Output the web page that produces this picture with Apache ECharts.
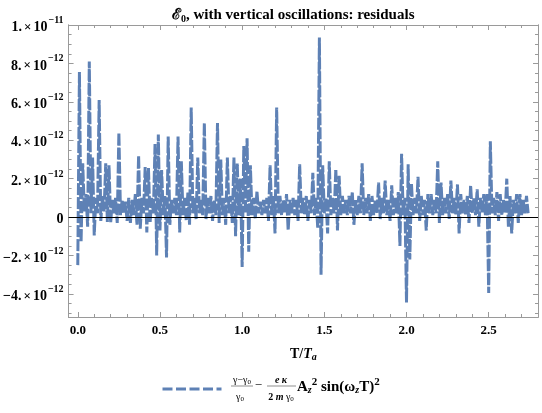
<!DOCTYPE html>
<html><head><meta charset="utf-8">
<script src="https://cdn.jsdelivr.net/npm/echarts@6/dist/echarts.min.js"></script>
<style>html,body{margin:0;padding:0;background:#fff}#c{width:542px;height:413px}</style>
</head><body><div id="c"></div>
<script>
// ---- data (residual values in units of 1e-12, sampled every tStep in T/Ta) ----
const tStep = 0.01;
const residuals = [
 -2.5, 7.55, -1.3, 2.8, 0.3, 1.2, -0.5, 8.1, 0.2, 3.1,
 -0.95, 1.0, 0.2, 6.1, -0.2, 1.1, 0.3, 2.8, -0.25, 2.7,
 -0.3, 0.9, 0.2, 1.0, -0.3, 4.4, 0.1, 0.9, 0.2, 0.8,
 -0.2, 1.0, -0.3, 0.9, 0.1, 1.2, -0.4, 3.2, -0.6, 1.0,
 0.2, 2.6, -0.8, 2.55, -0.3, 1.0, 0.2, 3.8, -2.0, 4.3,
 -0.7, 2.45, 0.1, 1.1, -2.1, 4.2, -0.4, 0.9, 0.2, 1.0,
 0.1, 4.2, -0.8, 2.9, 0.1, 1.0, -0.2, 1.3, -0.4, 5.7,
 0.2, 1.0, -0.1, 3.1, 0.2, 0.9, 0.1, 4.9, -0.1, 1.0,
 0.2, 1.1, -0.2, 0.9, 0.1, 4.9, -0.3, 3.0, 0.1, 1.0,
 -0.4, 3.1, 0.2, 1.1, -0.3, 3.1, -1.0, 2.8, 0.1, 2.0,
 -2.6, 3.7, 0.2, 4.1, -1.8, 2.7, 0.1, 1.0, -0.1, 1.35,
 0.2, 0.8, 0.1, 0.9, 0.2, 1.0, -0.2, 2.7, 0.1, 1.1,
 -0.85, 5.7, 0.2, 1.1, 0.1, 0.9, 0.2, 1.2, -0.7, 0.9,
 0.2, 1.0, 0.1, 0.9, -0.2, 2.75, 0.2, 1.0, 0.1, 1.1,
 -0.2, 0.9, 0.2, 2.3, 0.1, 1.0, -0.6, 9.35, -3.0, 2.7,
 0.2, 1.0, -0.85, 2.9, 0.1, 1.0, 0.2, 2.5, -0.7, 2.15,
 0.1, 1.1, 0.2, 0.9, 0.1, 1.1, 0.2, 1.3, -0.4, 0.9,
 0.1, 1.1, 0.2, 2.8, 0.1, 1.0, 0.2, 1.2, -0.2, 1.1,
 0.1, 0.9, 0.2, 1.8, -0.1, 1.0, 0.2, 1.9, 0.1, 0.9,
 -0.2, 1.65, 0.1, 1.0, 0.2, 1.3, -1.5, 3.3, 0.1, 1.0,
 -4.45, 2.75, -2.2, 1.75, 0.1, 1.0, 0.2, 2.1, -0.2, 1.1,
 0.1, 0.9, -0.7, 1.2, 0.2, 1.2, 0.1, 0.9, 0.2, 2.9,
 -0.3, 1.8, 0.1, 1.0, 0.2, 1.2, -0.1, 1.9, 0.2, 1.0,
 0.1, 1.7, -0.85, 1.2, 0.2, 0.9, 0.1, 1.1, -0.3, 1.65,
 0.2, 1.0, 0.1, 1.45, -0.5, 1.0, 0.2, 1.2, 0.1, 1.2,
 -3.95, 3.95, 0.2, 1.0, 0.1, 1.3, -0.2, 1.2, 0.1, 0.9,
 0.2, 2.0, -0.5, 1.1, -0.85, 0.9, 0.2, 1.2, -0.3, 1.2,
 0.1, 0.9, 0.2, 1.1, 0.2
];
const xTicks = [0, 0.5, 1, 1.5, 2, 2.5];
const xTickLabels = ['0.0', '0.5', '1.0', '1.5', '2.0', '2.5'];
const yTicks = [-4, -2, 0, 2, 4, 6, 8, 10];
const yTickLabels = ['−4.×10^−12', '−2.×10^−12', '0', '2.×10^−12', '4.×10^−12', '6.×10^−12', '8.×10^−12', '1.×10^−11'];
const seriesName = '(γ−γ0)/γ0 − eκ/(2mγ0) Az^2 sin(ωz T)^2';

// ---- build ----
const xMin = -0.056, xMax = 2.80, yMin = -5.2, yMax = 10;
const points = residuals.map((v, i) => [+(i * tStep).toFixed(4), v]);
const xMinor = [], yMinor = [];
for (let k = 0; k <= 27; k++) { if (k % 5) xMinor.push(+(k * 0.1).toFixed(2)); }
for (let k = -10; k <= 20; k++) { if (k % 4) yMinor.push(k * 0.5); }

const serif = '"Liberation Serif","DejaVu Serif","Times New Roman",serif';
const frameColor = '#9a9a9a';
const lineColor = '#5E81B5';
const baseFont = { fontFamily: serif, fontWeight: 'bold', color: '#000' };

function yFmt(v) {
  let idx = yTicks.findIndex(t => Math.abs(t - v) < 1e-9);
  if (idx < 0) return '';
  const lab = yTickLabels[idx];
  if (lab.indexOf('^') < 0) return '{n|' + lab + '}';
  const [base, exp] = lab.split('^');
  const [mant, ten] = base.split('×');
  return '{n|' + mant + '}{x|×}{n|' + ten + '}{s|' + exp + '}';
}
function xFmt(v) {
  let idx = xTicks.findIndex(t => Math.abs(t - v) < 1e-9);
  return idx < 0 ? '' : xTickLabels[idx];
}

function xAxisDef(pos, ticks, len, labels) {
  return {
    type: 'value', min: xMin, max: xMax, position: pos,
    axisLine: { show: true, onZero: false, lineStyle: { color: frameColor, width: 1 } },
    axisTick: { show: true, inside: true, length: len, customValues: ticks, lineStyle: { color: frameColor } },
    axisLabel: labels ? { show: true, customValues: xTicks, formatter: xFmt, margin: 7,
      fontFamily: serif, fontWeight: 'bold', fontSize: 13, color: '#000' } : { show: false },
    splitLine: { show: false }
  };
}
function yAxisDef(pos, ticks, len, labels) {
  return {
    type: 'value', min: yMin, max: yMax, position: pos,
    axisLine: { show: true, onZero: false, lineStyle: { color: frameColor, width: 1 } },
    axisTick: { show: true, inside: true, length: len, customValues: ticks, lineStyle: { color: frameColor } },
    axisLabel: labels ? { show: true, customValues: yTicks, formatter: yFmt, margin: 5,
      rich: {
        n: Object.assign({ fontSize: 14, padding: [5, 0, 0, 0] }, baseFont),
        x: Object.assign({ fontSize: 13, padding: [5, 2, 0, 2] }, baseFont),
        s: Object.assign({ fontSize: 10, verticalAlign: 'top', padding: [0, 0, 0, 1] }, baseFont)
      } } : { show: false },
    splitLine: { show: false }
  };
}

const xa0 = xAxisDef('bottom', xTicks, 5, true);
xa0.name = '{b|T/}{i|T}{a|a}';
xa0.nameLocation = 'middle';
xa0.nameGap = 29;
xa0.nameTextStyle = { rich: {
  b: Object.assign({ fontSize: 14 }, baseFont),
  i: Object.assign({ fontSize: 14, fontStyle: 'italic' }, baseFont),
  a: Object.assign({ fontSize: 10, fontStyle: 'italic', padding: [6, 0, 0, 0] }, baseFont)
} };

const option = {
  animation: false,
  backgroundColor: '#fff',
  title: {
    text: '{e|ℰ}{z|0}{t|, with vertical oscillations: residuals}',
    left: 167, top: 2,
    textStyle: { rich: {
      e: Object.assign({ fontSize: 15 }, baseFont),
      z: Object.assign({ fontSize: 10, padding: [7, 0, 0, 0] }, baseFont),
      t: Object.assign({ fontSize: 15 }, baseFont)
    } }
  },
  grid: { left: 67, right: 4, top: 25, bottom: 96, containLabel: false },
  xAxis: [
    xa0,
    xAxisDef('bottom', xMinor, 3, false),
    xAxisDef('top', xTicks, 5, false),
    xAxisDef('top', xMinor, 3, false)
  ],
  yAxis: [
    yAxisDef('left', yTicks, 5, true),
    yAxisDef('left', yMinor, 3, false),
    yAxisDef('right', yTicks, 5, false),
    yAxisDef('right', yMinor, 3, false)
  ],
  legend: {
    data: [seriesName], left: 156, top: 378, itemWidth: 59, itemHeight: 12,
    formatter: () => '', selectedMode: false,
    itemStyle: { opacity: 0, borderWidth: 0 },
    lineStyle: { color: lineColor, width: 3, type: [10, 3.5] }
  },
  series: [{
    name: seriesName, type: 'line', xAxisIndex: 0, yAxisIndex: 0,
    data: points, showSymbol: false, symbol: 'none',
    lineStyle: { color: lineColor, width: 3, type: [12, 2], cap: 'butt', join: 'bevel' },
    itemStyle: { color: lineColor },
    markLine: {
      silent: true, symbol: ['none', 'none'], label: { show: false },
      lineStyle: { color: '#000', width: 1, type: 'solid' },
      data: [{ yAxis: 0 }]
    }
  }],
  graphic: [
    { type: 'text', x: 242, y: 380, style: { text: '{g|γ−γ}{z|0}', textAlign: 'center', textVerticalAlign: 'middle',
      rich: { g: { fontFamily: serif, fontSize: 10 }, z: { fontFamily: serif, fontSize: 7, padding: [4, 0, 0, 0] } } } },
    { type: 'line', shape: { x1: 231, y1: 386, x2: 253, y2: 386 }, style: { stroke: '#444', lineWidth: 0.6 } },
    { type: 'text', x: 240, y: 397, style: { text: '{g|γ}{z|0}', textAlign: 'center', textVerticalAlign: 'middle',
      rich: { g: { fontFamily: serif, fontSize: 10 }, z: { fontFamily: serif, fontSize: 7, padding: [4, 0, 0, 0] } } } },
    { type: 'text', x: 258.5, y: 386, style: { text: '−', textAlign: 'center', textVerticalAlign: 'middle',
      font: '13px ' + serif, fill: '#000' } },
    { type: 'text', x: 281, y: 380, style: { text: 'e κ', textAlign: 'center', textVerticalAlign: 'middle',
      font: 'italic bold 10px ' + serif, fill: '#000' } },
    { type: 'line', shape: { x1: 267, y1: 386, x2: 296, y2: 386 }, style: { stroke: '#444', lineWidth: 0.6 } },
    { type: 'text', x: 281, y: 397, style: { text: '{b|2 }{i|m}{g| γ}{z|0}', textAlign: 'center', textVerticalAlign: 'middle',
      rich: { b: { fontFamily: serif, fontSize: 10, fontWeight: 'bold' }, i: { fontFamily: serif, fontSize: 10, fontWeight: 'bold', fontStyle: 'italic' },
        g: { fontFamily: serif, fontSize: 10 }, z: { fontFamily: serif, fontSize: 7, padding: [4, 0, 0, 0] } } } },
    { type: 'text', x: 297, y: 386, style: { text: '{m|A}{sb|z}{sp|2}{m| sin(}{m|ω}{sb|z}{m|T)}{sp|2}', textAlign: 'left', textVerticalAlign: 'middle',
      rich: {
        m: { fontFamily: serif, fontSize: 15, fontWeight: 'bold', padding: [3, 0, 0, 0] },
        sb: { fontFamily: serif, fontSize: 10, fontWeight: 'bold', fontStyle: 'italic', padding: [9, 0, 0, 0] },
        sp: { fontFamily: serif, fontSize: 11, fontWeight: 'bold', verticalAlign: 'top' }
      } } }
  ]
};

const chart = echarts.init(document.getElementById('c'), null, { renderer: 'canvas' });
chart.setOption(option);
</script></body></html>
